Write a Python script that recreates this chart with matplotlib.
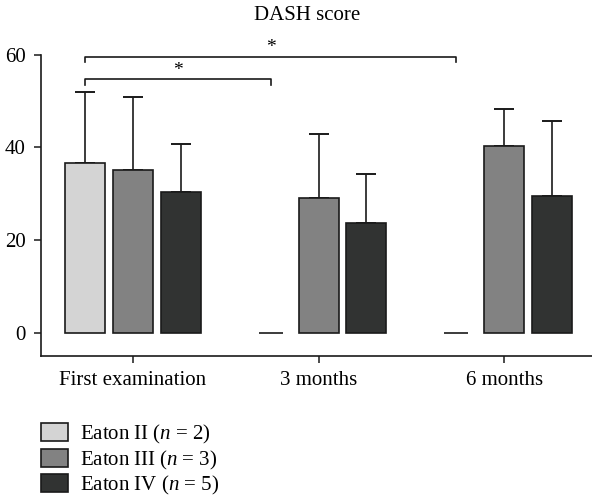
import numpy as np
import matplotlib.pyplot as plt
from matplotlib.patches import Patch

plt.rcParams['font.family'] = ['Liberation Serif', 'DejaVu Serif']
plt.rcParams['mathtext.fontset'] = 'custom'
plt.rcParams['mathtext.it'] = 'Liberation Serif:italic'
plt.rcParams['mathtext.rm'] = 'Liberation Serif'

# Datos
groups = ['First examination', '3 months', '6 months']
series = ['Eaton II ($n$ = 2)', 'Eaton III ($n$ = 3)', 'Eaton IV ($n$ = 5)']
eaton2 = [36.6, 0, 0]
eaton3 = [35.0, 29.0, 40.2]
eaton4 = [30.3, 23.7, 29.5]
sd2 = [15.4, 0, 0]
sd3 = [15.9, 13.9, 8.1]
sd4 = [10.5, 10.5, 16.2]
colores = ['#d4d4d4', '#828282', '#313332']

valores = [eaton2, eaton3, eaton4]
errores = [sd2, sd3, sd4]

fig = plt.figure(figsize=(5.92, 5.0), dpi=100)
ax = fig.add_axes([0.0693, 0.2886, 0.9307, 0.6024])

x = np.arange(len(groups))
w = 0.216
paso = 0.257

for i in range(3):
    pos = x + (i - 1) * paso
    vals = np.array(valores[i])
    errs = np.array(errores[i])
    m = vals > 0
    ax.bar(pos[m], vals[m], width=w, color=colores[i], edgecolor='#1a1a1a', linewidth=1.2, zorder=2)
    # barras en cero: solo una raya corta
    if (~m).any():
        ax.hlines(vals[~m], pos[~m] - w * 0.3, pos[~m] + w * 0.3, color='#1a1a1a', linewidth=1.2, zorder=2)
    ax.errorbar(pos[m], vals[m], yerr=[np.zeros(m.sum()), errs[m]], fmt='none',
                ecolor='#1a1a1a', elinewidth=1.2, capsize=7, capthick=1.4, zorder=1)

# Corchetes de significancia
def corchete(x1, x2, y, h):
    ax.plot([x1, x1, x2, x2], [y - h, y, y, y - h], color='#1a1a1a', lw=1.2, clip_on=False)
    ax.text((x1 + x2) / 2, y + 0.1, '*', ha='center', va='bottom', fontsize=14, clip_on=False)

corchete(-paso, 1 - paso, 54.7, 1.3)
corchete(-paso, 2 - paso, 59.5, 1.1)

ax.set_xlim(-0.496, 2.474)
ax.set_ylim(-4.92, 60)
ax.set_yticks([0, 20, 40, 60])
ax.set_xticks(x)
ax.set_xticklabels(groups)
ax.tick_params(axis='both', direction='out', length=5, width=1.1, labelsize=15, pad=6, color='#1a1a1a')
for s in ['top', 'right']:
    ax.spines[s].set_visible(False)
for s in ['left', 'bottom']:
    ax.spines[s].set_linewidth(1.2)
    ax.spines[s].set_color('#1a1a1a')

fig.text(0.519, 1 - 16 / 500, 'DASH score', ha='center', va='center', fontsize=15)

handles = [Patch(facecolor=c, edgecolor='#1a1a1a', linewidth=1.2) for c in colores]
fig.legend(handles, series, loc='upper left', bbox_to_anchor=(0.069, 1 - 423 / 500),
           frameon=False, fontsize=15, handlelength=1.3, handleheight=0.95,
           handletextpad=0.6, labelspacing=0.12, borderpad=0, borderaxespad=0)

plt.savefig('out.png', dpi=100)
